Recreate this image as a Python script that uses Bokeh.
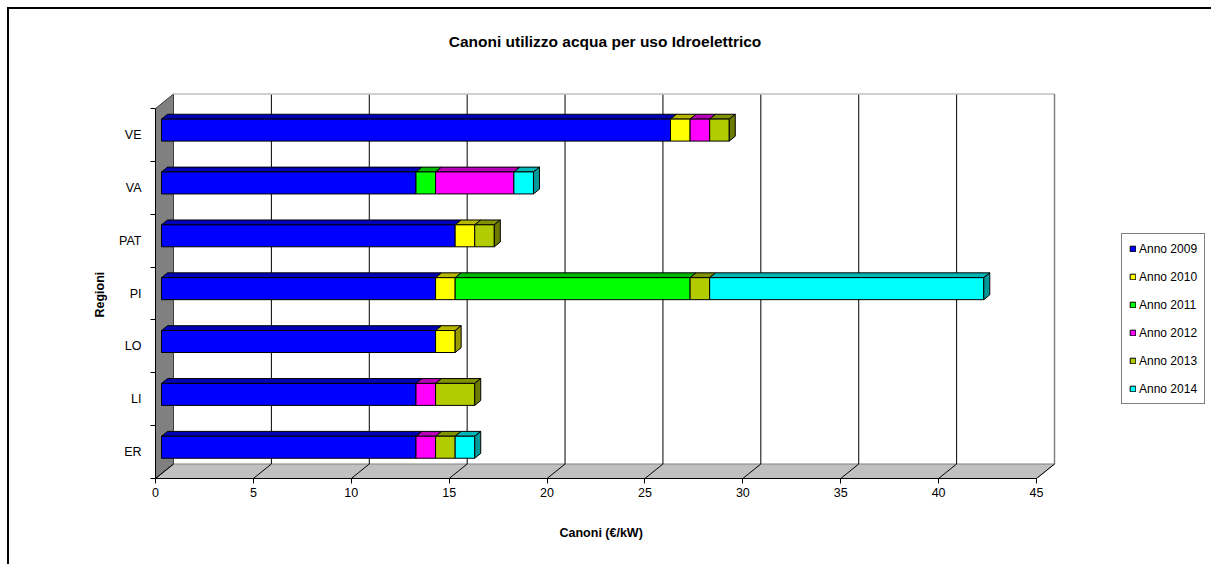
from bokeh.plotting import figure
from bokeh.models import (Range1d, FixedTicker, Legend, LegendItem,
                          ColumnDataSource, Title, Label)
from bokeh.embed import file_html
from bokeh.resources import INLINE

# ---- data -----------------------------------------------------------------
regions = ["ER", "LI", "LO", "PI", "PAT", "VA", "VE"]          # bottom to top
series_names = ["Anno 2009", "Anno 2010", "Anno 2011",
                "Anno 2012", "Anno 2013", "Anno 2014"]
anno_2009 = [13, 13, 14, 14, 15, 13, 26]
anno_2010 = [0, 0, 1, 1, 1, 0, 1]
anno_2011 = [0, 0, 0, 12, 0, 1, 0]
anno_2012 = [1, 1, 0, 0, 0, 4, 1]
anno_2013 = [1, 2, 0, 1, 1, 0, 1]
anno_2014 = [1, 0, 0, 14, 0, 1, 0]
x_ticks = [0, 5, 10, 15, 20, 25, 30, 35, 40, 45]

series = [anno_2009, anno_2010, anno_2011, anno_2012, anno_2013, anno_2014]
front_colors = ["#0000FF", "#FFFF00", "#00FF00", "#FF00FF", "#B3CC00", "#00FFFF"]


def shade(hex_color, f):
    h = hex_color.lstrip("#")
    r, g, b = (int(h[i:i + 2], 16) for i in (0, 2, 4))
    return "#%02x%02x%02x" % (int(r * f), int(g * f), int(b * f))


# ---- layout (pixels) ------------------------------------------------------
PAGE_W, PAGE_H = 1213, 566
EDGE = 7                  # page margin before the chart-area border
BORDER = 2
OFF = EDGE + BORDER
W, H = PAGE_W - OFF, PAGE_H - OFF
LEFT, BOTTOM = 155 - OFF, 88
FRONT_W_PX = 881          # width of the front x axis (0..45)
FRONT_H_PX = 370          # height of the front y axis (all categories)
DEPTH_X_PX, DEPTH_Y_PX = 18, 14.5
TITLE_GAP_PX = 53         # from the top of the back wall to the title centre

x_max = x_ticks[-1]
n = len(regions)
ux = FRONT_W_PX / x_max
uy = FRONT_H_PX / n
DX = DEPTH_X_PX / ux
DY = DEPTH_Y_PX / uy
x_end = (W - LEFT) / ux
y_end = (H - BOTTOM) / uy

FONT = "Liberation Sans"

p = figure(width=W, height=H,
           x_range=Range1d(0, x_end), y_range=Range1d(0, y_end),
           output_backend="svg", toolbar_location=None, title_location=None,
           min_border_left=LEFT, min_border_right=0,
           min_border_top=0, min_border_bottom=BOTTOM)
p.styles = {"margin-left": f"{EDGE}px", "margin-top": f"{EDGE}px",
            "border-left": f"{BORDER}px solid black",
            "border-top": f"{BORDER}px solid black"}
p.outline_line_color = None
p.xgrid.visible = False
p.ygrid.visible = False
p.background_fill_color = "white"
p.border_fill_color = "white"

# chart title, centred over the plot box
p.add_layout(Label(x=(x_max + DX) / 2, y=n + DY + TITLE_GAP_PX / uy,
                   text="Canoni utilizzo acqua per uso Idroelettrico",
                   text_align="center", text_baseline="middle",
                   text_font=FONT, text_font_size="15.5px",
                   text_font_style="bold", text_color="black"))

# x axis
xa = p.xaxis[0]
xa.ticker = FixedTicker(ticks=x_ticks)
xa.bounds = (0, x_max)
xa.axis_line_color = "black"
xa.major_tick_line_color = "black"
xa.major_tick_out = 5
xa.major_tick_in = 0
xa.minor_tick_line_color = None
xa.major_label_text_font = FONT
xa.major_label_text_font_size = "12.5px"
xa.major_label_text_color = "black"
xa.major_label_standoff = 4

# x axis title, placed under the 0..45 axis
p.add_layout(Title(text="Canoni (€/kW)", align="left", offset=404,
                   standoff=48, text_font=FONT, text_font_size="12.5px",
                   text_font_style="bold", text_color="black"), "below")

# y axis: labels at category centres, ticks at category boundaries
centers = [i + 0.5 for i in range(n)]
ya = p.yaxis[0]
ya.ticker = FixedTicker(ticks=centers, minor_ticks=list(range(n + 1)))
ya.bounds = (0, n)
ya.major_label_overrides = {c: r for c, r in zip(centers, regions)}
ya.axis_line_color = "black"
ya.major_tick_line_color = None
ya.major_tick_out = 0
ya.major_tick_in = 0
ya.minor_tick_line_color = "black"
ya.minor_tick_out = 5
ya.minor_tick_in = 0
ya.major_label_text_font = FONT
ya.major_label_text_font_size = "12.5px"
ya.major_label_text_color = "black"
ya.major_label_standoff = 9

# y axis title, centred along the category axis
p.add_layout(Title(text="Regioni", align="left", offset=161,
                   standoff=20, text_font=FONT, text_font_size="12.5px",
                   text_font_style="bold", text_color="black"), "left")

# ---- 3D box: floor, side wall, back wall grid -----------------------------
p.patch([0, x_max, x_max + DX, DX], [0, 0, DY, DY],
        fill_color="#C0C0C0", line_color="#808080", line_width=1)
p.patch([0, DX, DX, 0], [0, DY, n + DY, n],
        fill_color="#808080", line_color="#404040", line_width=1)

inner = x_ticks[1:-1]
p.segment(x0=[t + DX for t in inner], y0=[DY] * len(inner),
          x1=[t + DX for t in inner], y1=[n + DY] * len(inner),
          line_color="black", line_width=1)
p.segment(x0=[DX], y0=[n + DY], x1=[x_max + DX], y1=[n + DY],
          line_color="#C0C0C0", line_width=1.5)
p.segment(x0=[x_max + DX], y0=[DY], x1=[x_max + DX], y1=[n + DY],
          line_color="#808080", line_width=1.5)
p.segment(x0=x_ticks, y0=[0] * len(x_ticks),
          x1=[t + DX for t in x_ticks], y1=[DY] * len(x_ticks),
          line_color="black", line_width=1)

# ---- stacked 3D bars -------------------------------------------------------
ox, oy = DX / 3, DY / 3          # front face sits one third into the depth
bar_h = 22 / uy

left_edge = [0.0] * n
last_seg = {}
renderers = []
for k, vals in enumerate(series):
    lefts, rights, bottoms, tops = [], [], [], []
    top_xs, top_ys = [], []
    for i, v in enumerate(vals):
        l = left_edge[i]
        r = l + v
        left_edge[i] = r
        if v <= 0:
            continue
        c = centers[i]
        b0, t0 = c + oy - bar_h / 2, c + oy + bar_h / 2
        lefts.append(l + ox)
        rights.append(r + ox)
        bottoms.append(b0)
        tops.append(t0)
        top_xs.append([l + ox, r + ox, r + 2 * ox, l + 2 * ox])
        top_ys.append([t0, t0, t0 + oy, t0 + oy])
        last_seg[i] = (r, k)
    p.patches(xs=top_xs, ys=top_ys, fill_color=shade(front_colors[k], 0.72),
              line_color="black", line_width=1)
    rend = p.quad(left=lefts, right=rights, bottom=bottoms, top=tops,
                  fill_color=front_colors[k], line_color="black", line_width=1)
    renderers.append(rend)

end_xs, end_ys, end_cols = [], [], []
for i, (r, k) in last_seg.items():
    c = centers[i]
    b0, t0 = c + oy - bar_h / 2, c + oy + bar_h / 2
    end_xs.append([r + ox, r + 2 * ox, r + 2 * ox, r + ox])
    end_ys.append([b0, b0 + oy, t0 + oy, t0])
    end_cols.append(shade(front_colors[k], 0.6))
p.patches(xs="xs", ys="ys", fill_color="fc", line_color="black", line_width=1,
          source=ColumnDataSource(dict(xs=end_xs, ys=end_ys, fc=end_cols)))

# ---- legend ----------------------------------------------------------------
legend = Legend(items=[LegendItem(label=nm, renderers=[rd])
                       for nm, rd in zip(series_names, renderers)],
                location=(1121 - 155, 478 - 404))
legend.border_line_color = "black"
legend.border_line_width = 1
legend.background_fill_color = "white"
legend.background_fill_alpha = 1
legend.padding = 7
legend.margin = 0
legend.spacing = 13
legend.glyph_width = 7
legend.glyph_height = 7
legend.label_height = 15
legend.label_standoff = 3
legend.label_text_font = FONT
legend.label_text_font_size = "12px"
legend.label_text_color = "black"
p.add_layout(legend)

open("out.html", "w").write(file_html(p, INLINE))
